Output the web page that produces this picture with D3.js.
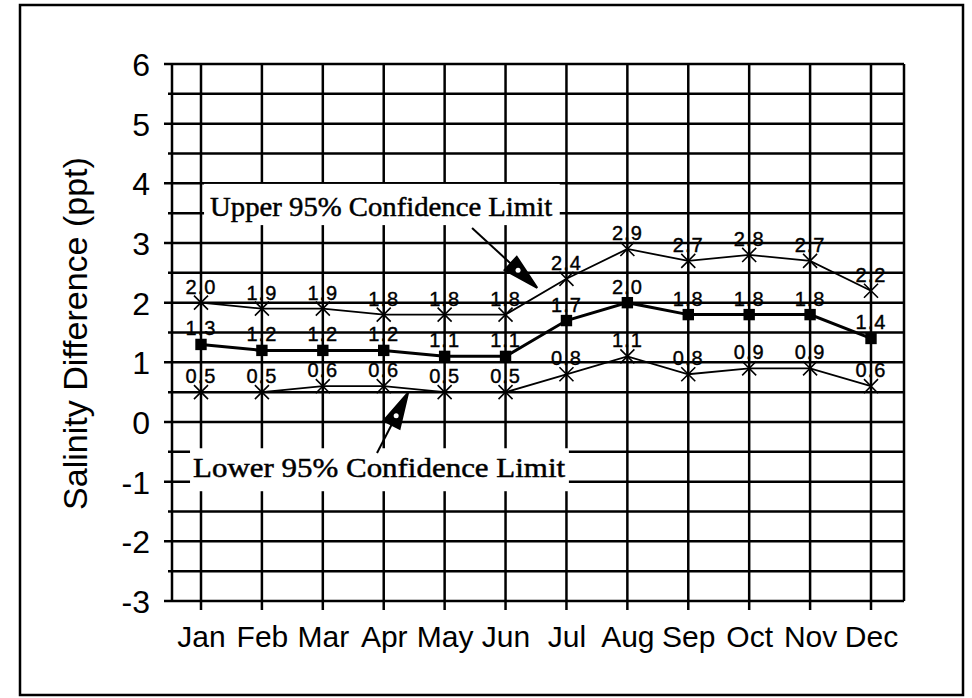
<!DOCTYPE html>
<html>
<head>
<meta charset="utf-8">
<script src="https://cdn.jsdelivr.net/npm/d3@7"></script>
<style>
  body { margin: 0; background: #fff; }
  svg { display: block; }
</style>
</head>
<body>
<div id="chart"></div>
<script>
// données
const months = ['Jan', 'Feb', 'Mar', 'Apr', 'May', 'Jun', 'Jul', 'Aug', 'Sep', 'Oct', 'Nov', 'Dec']
const upper = [2.0, 1.9, 1.9, 1.8, 1.8, 1.8, 2.4, 2.9, 2.7, 2.8, 2.7, 2.2]
const mean = [1.3, 1.2, 1.2, 1.2, 1.1, 1.1, 1.7, 2.0, 1.8, 1.8, 1.8, 1.4]
const lower = [0.5, 0.5, 0.6, 0.6, 0.5, 0.5, 0.8, 1.1, 0.8, 0.9, 0.9, 0.6]
const yTicks = [-3, -2, -1, 0, 1, 2, 3, 4, 5, 6]

const W = 972, H = 698
const plot = { left: 172, right: 904, top: 64, bottom: 601 }
const sans = 'Liberation Sans, Arial, sans-serif'
const serif = 'Liberation Serif, Times New Roman, serif'

const svg = d3.select('#chart')
    .append('svg')
    .attr('width', W)
    .attr('height', H)

// cadre extérieur
svg.append('rect')
    .attr('x', 20).attr('y', 5)
    .attr('width', 943).attr('height', 690)
    .attr('fill', 'none')
    .attr('stroke', 'black')
    .attr('stroke-width', 2.5)

const x = d3.scalePoint()
    .domain(months)
    .range([201, 871])

const y = d3.scaleLinear()
    .domain([-3, 6])
    .range([plot.bottom, plot.top])

// position fractionnaire en mois (pour les annotations)
const xi = i => x(months[0]) + i * x.step()

const fmt = d3.format('.1f')

// étiquettes des valeurs (dessinées sous la grille, comme l'original)
const series = [upper, mean, lower]
const labels = svg.append('g')
series.forEach(s => {
    labels.selectAll(null)
        .data(s)
        .enter()
        .append('text')
        .attr('x', (d, i) => x(months[i]))
        .attr('y', d => y(d) - 9)
        .attr('text-anchor', 'middle')
        .style('font-family', sans)
        .style('font-size', '20px')
        .style('letter-spacing', '1px')
        .attr('stroke', 'black')
        .attr('stroke-width', 0.4)
        .text(d => fmt(d))
})

// grille
const grid = svg.append('g')
    .attr('stroke', 'black')
    .attr('stroke-width', 2.5)

grid.selectAll('.h')
    .data(d3.range(-6, 13).map(v => v / 2))
    .enter()
    .append('line')
    .attr('x1', d => Number.isInteger(d) ? plot.left - 8 : plot.left - 4)
    .attr('x2', plot.right)
    .attr('y1', d => y(d))
    .attr('y2', d => y(d))

grid.selectAll('.v')
    .data(months)
    .enter()
    .append('line')
    .attr('x1', d => x(d))
    .attr('x2', d => x(d))
    .attr('y1', plot.top)
    .attr('y2', plot.bottom + 9)

grid.append('line')
    .attr('x1', plot.left).attr('x2', plot.left)
    .attr('y1', plot.top).attr('y2', plot.bottom)
grid.append('line')
    .attr('x1', plot.right).attr('x2', plot.right)
    .attr('y1', plot.top).attr('y2', plot.bottom)

// axe Y
svg.append('g')
    .attr('transform', 'translate(' + (plot.left - 20) + ',0)')
    .call(d3.axisLeft(y).tickValues(yTicks).tickFormat(d => String(d)).tickSize(0).tickPadding(2))
    .call(g => g.select('.domain').remove())
    .selectAll('text')
    .attr('dy', '0.36em')
    .style('font-family', sans)
    .style('font-size', '32px')
    .attr('fill', 'black')

// axe X (libellés)
svg.append('g')
    .attr('transform', 'translate(0,' + plot.bottom + ')')
    .call(d3.axisBottom(x).tickSize(0).tickPadding(0))
    .call(g => g.select('.domain').remove())
    .selectAll('text')
    .attr('dy', null)
    .attr('y', 46)
    .style('font-family', sans)
    .style('font-size', '30px')
    .attr('fill', 'black')

// titre Y
svg.append('text')
    .attr('transform', 'translate(87,' + ((155 + 512) / 2) + ') rotate(-90)')
    .attr('text-anchor', 'middle')
    .style('font-family', sans)
    .style('font-size', '34px')
    .text('Salinity Difference (ppt)')

// annotations (boîtes blanches qui coupent la grille)
const notes = [
    { text: 'Upper 95% Confidence Limit', i0: 0.05, i1: 5.89, v0: 3.99, v1: 3.3, base: 3.45, len: 342, xs: 0.15 },
    { text: 'Lower 95% Confidence Limit', i0: -0.18, i1: 6.04, v0: -0.44, v1: -1.16, base: -0.92, len: 372, xs: -0.13 }
]
notes.forEach(n => {
    svg.append('rect')
        .attr('x', xi(n.i0))
        .attr('y', y(n.v0))
        .attr('width', xi(n.i1) - xi(n.i0))
        .attr('height', y(n.v1) - y(n.v0))
        .attr('fill', 'white')
    svg.append('text')
        .attr('x', xi(n.xs))
        .attr('y', y(n.base))
        .attr('textLength', n.len)
        .attr('lengthAdjust', 'spacingAndGlyphs')
        .style('font-family', serif)
        .style('font-size', '28px')
        .attr('stroke', 'black')
        .attr('stroke-width', 0.5)
        .text(n.text)
})

// flèches
const arrows = [
    { from: [4.45, 3.25], to: [5.52, 2.25] },
    { from: [2.89, -0.52], to: [3.40, 0.49] }
]
arrows.forEach(a => {
    const x0 = xi(a.from[0]), y0 = y(a.from[1])
    const x1 = xi(a.to[0]), y1 = y(a.to[1])
    const dx = x1 - x0, dy = y1 - y0, L = Math.hypot(dx, dy)
    const ux = dx / L, uy = dy / L
    const bx = x1 - ux * 36, by = y1 - uy * 36
    svg.append('line')
        .attr('x1', x0).attr('y1', y0)
        .attr('x2', bx).attr('y2', by)
        .attr('stroke', 'black')
        .attr('stroke-width', 2)
    svg.append('polygon')
        .attr('points', [[x1, y1], [bx - uy * 9, by + ux * 9], [bx + uy * 9, by - ux * 9]].join(' '))
        .attr('fill', 'black')
        .attr('stroke', 'black')
        .attr('stroke-width', 2)
        .attr('stroke-linejoin', 'miter')
    // petit reflet blanc au centre, comme sur l'original
    svg.append('circle')
        .attr('cx', bx + ux * 10)
        .attr('cy', by + uy * 10)
        .attr('r', 2.5)
        .attr('fill', 'white')
})

// courbes
const line = d3.line()
    .x((d, i) => x(months[i]))
    .y(d => y(d))

svg.append('path').datum(upper)
    .attr('d', line).attr('fill', 'none')
    .attr('stroke', 'black').attr('stroke-width', 1.8)
svg.append('path').datum(lower)
    .attr('d', line).attr('fill', 'none')
    .attr('stroke', 'black').attr('stroke-width', 1.8)
svg.append('path').datum(mean)
    .attr('d', line).attr('fill', 'none')
    .attr('stroke', 'black').attr('stroke-width', 3)

// marqueurs
const cross = d3.symbol().type(d3.symbolTimes).size(130)
const square = d3.symbol().type(d3.symbolSquare).size(130);

[upper, lower].forEach(s => {
    svg.append('g').selectAll('path')
        .data(s)
        .enter()
        .append('path')
        .attr('d', cross)
        .attr('transform', (d, i) => 'translate(' + x(months[i]) + ',' + y(d) + ')')
        .attr('fill', 'none')
        .attr('stroke', 'black')
        .attr('stroke-width', 1.6)
})

svg.append('g').selectAll('path')
    .data(mean)
    .enter()
    .append('path')
    .attr('d', square)
    .attr('transform', (d, i) => 'translate(' + x(months[i]) + ',' + y(d) + ')')
    .attr('fill', 'black')
</script>
</body>
</html>
